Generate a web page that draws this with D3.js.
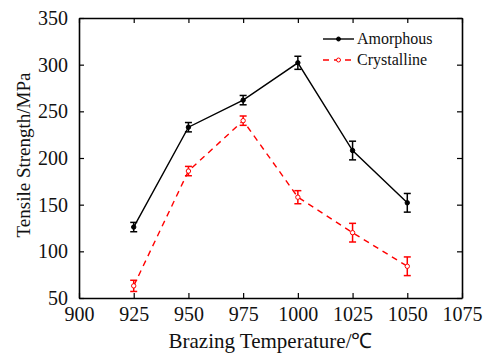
<!DOCTYPE html>
<html>
<head>
<meta charset="utf-8">
<script src="https://cdn.jsdelivr.net/npm/d3@7"></script>
<style>
  body { margin: 0; background: #fff; }
  svg text { font-family: "Liberation Serif", "Times New Roman", serif; }
</style>
</head>
<body>
<div id="chart"></div>
<script>
// data
const temps = [925, 950, 975, 1000, 1025, 1050];
const amorphous = [126, 233, 262, 302, 208, 152];
const amorphousErr = [5, 5, 5, 7, 10, 10];
const crystalline = [63, 186, 240, 158, 120, 84];
const crystallineErr = [6, 5, 5, 7, 10, 10];
const xTicks = [900, 925, 950, 975, 1000, 1025, 1050, 1075];
const yTicks = [50, 100, 150, 200, 250, 300, 350];

const serif = "'Liberation Serif', 'Times New Roman', serif";
const width = 491, height = 354;
const margin = { top: 18, right: 29, bottom: 56, left: 79 };
const innerW = width - margin.left - margin.right;
const innerH = height - margin.top - margin.bottom;

const svg = d3.select("#chart")
  .append("svg")
  .attr("width", width)
  .attr("height", height);

const g = svg.append("g")
  .attr("transform", `translate(${margin.left}, ${margin.top})`);

const x = d3.scaleLinear().domain([900, 1075]).range([0, innerW]);
const y = d3.scaleLinear().domain([50, 350]).range([innerH, 0]);

// axes, ticks pointing inward
g.append("g")
  .attr("transform", `translate(0, ${innerH})`)
  .call(d3.axisBottom(x).tickValues(xTicks).tickFormat(d3.format("d"))
    .tickSize(-5).tickPadding(9).tickSizeOuter(0));
g.append("g")
  .call(d3.axisLeft(y).tickValues(yTicks).tickFormat(d3.format("d"))
    .tickSize(-5).tickPadding(11).tickSizeOuter(0));
// mirrored top and right
g.append("g")
  .call(d3.axisTop(x).tickValues(xTicks).tickSize(-5).tickFormat("").tickSizeOuter(0));
g.append("g")
  .attr("transform", `translate(${innerW}, 0)`)
  .call(d3.axisRight(y).tickValues(yTicks).tickSize(-5).tickFormat("").tickSizeOuter(0));

g.selectAll(".domain").attr("stroke", "#000").attr("stroke-width", 1.6);
g.selectAll(".tick line").attr("stroke", "#000").attr("stroke-width", 1.2);
g.selectAll(".tick text")
  .style("font-family", serif)
  .style("font-size", "20px")
  .attr("fill", "#111");

// axis titles
svg.append("text")
  .attr("x", margin.left + innerW / 2)
  .attr("y", 348)
  .attr("text-anchor", "middle")
  .style("font-family", serif)
  .style("font-size", "21px")
  .attr("fill", "#111")
  .text("Brazing Temperature/℃");

svg.append("text")
  .attr("transform", `translate(30, 155) rotate(-90)`)
  .attr("text-anchor", "middle")
  .style("font-family", serif)
  .style("font-size", "19px")
  .attr("fill", "#111")
  .text("Tensile Strength/MPa");

const line = d3.line()
  .x(d => x(d[0]))
  .y(d => y(d[1]));

function drawSeries(vals, errs, color, dash, filled) {
  const pts = temps.map((t, i) => [t, vals[i], errs[i]]);
  g.append("path")
    .datum(pts)
    .attr("fill", "none")
    .attr("stroke", color)
    .attr("stroke-width", 1.4)
    .attr("stroke-dasharray", dash)
    .attr("d", line);

  const eb = g.append("g").selectAll("g")
    .data(pts)
    .join("g")
    .attr("stroke", color)
    .attr("stroke-width", 1.5);
  eb.append("line")
    .attr("x1", d => x(d[0])).attr("x2", d => x(d[0]))
    .attr("y1", d => y(d[1] - d[2])).attr("y2", d => y(d[1] + d[2]));
  eb.append("line")
    .attr("x1", d => x(d[0]) - 3.5).attr("x2", d => x(d[0]) + 3.5)
    .attr("y1", d => y(d[1] - d[2])).attr("y2", d => y(d[1] - d[2]));
  eb.append("line")
    .attr("x1", d => x(d[0]) - 3.5).attr("x2", d => x(d[0]) + 3.5)
    .attr("y1", d => y(d[1] + d[2])).attr("y2", d => y(d[1] + d[2]));

  g.append("g").selectAll("circle")
    .data(pts)
    .join("circle")
    .attr("cx", d => x(d[0]))
    .attr("cy", d => y(d[1]))
    .attr("r", 2.2)
    .attr("fill", filled ? color : "#fff")
    .attr("stroke", color)
    .attr("stroke-width", 1);
}

drawSeries(amorphous, amorphousErr, "#000", null, true);
drawSeries(crystalline, crystallineErr, "#ff0000", "6,5", false);

// legend
const legend = svg.append("g");
const legendItems = [
  { name: "Amorphous", color: "#000", dash: null, filled: true, y: 39 },
  { name: "Crystalline", color: "#ff0000", dash: "6,5", filled: false, y: 60 }
];
legendItems.forEach(d => {
  legend.append("line")
    .attr("x1", 323).attr("x2", 354)
    .attr("y1", d.y).attr("y2", d.y)
    .attr("stroke", d.color)
    .attr("stroke-width", 1.4)
    .attr("stroke-dasharray", d.dash);
  legend.append("circle")
    .attr("cx", 338.5).attr("cy", d.y).attr("r", 2)
    .attr("fill", d.filled ? d.color : "#fff")
    .attr("stroke", d.color);
  legend.append("text")
    .attr("x", 357).attr("y", d.y + 5)
    .style("font-family", serif)
    .style("font-size", "16px")
    .attr("fill", "#111")
    .text(d.name);
});
</script>
</body>
</html>
